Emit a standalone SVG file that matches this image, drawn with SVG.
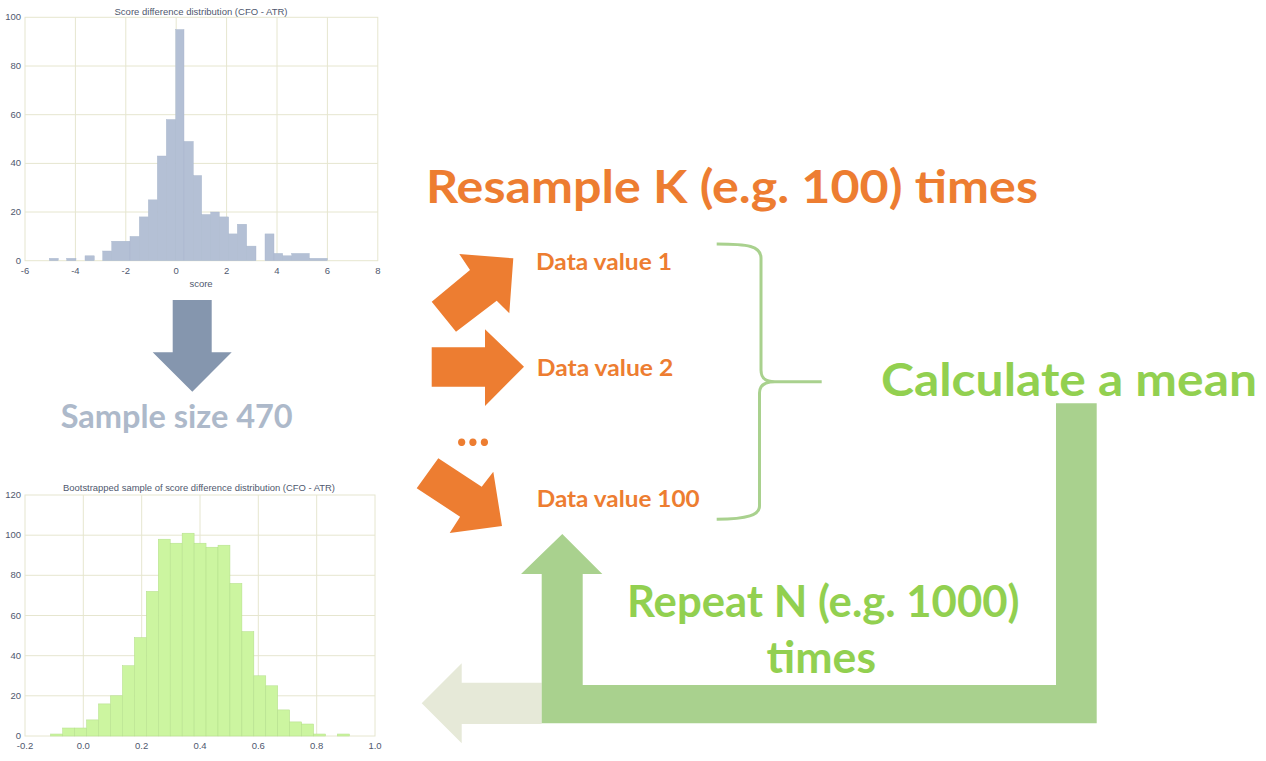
<svg xmlns="http://www.w3.org/2000/svg" width="1266" height="761" viewBox="0 0 1266 761">
<style>
.bg{fill:#ffffff}
.grid{stroke:#e6e6cf;stroke-width:1;fill:none}
.tick{font-family:"Liberation Sans",Arial,sans-serif;font-size:9.5px;fill:#4f586e}
.ttl{font-family:"Liberation Sans",Arial,sans-serif;font-size:9.5px;fill:#4f586e}
.b1{fill:#b4c0d5;stroke:#a9b6cc;stroke-width:0.4}
.b2{fill:#ccf5a0;stroke:#b3dd8a;stroke-width:0.5}
.big{font-family:Lato,"Open Sans",sans-serif;font-weight:bold}
.or{fill:#ed7d31}
.gr{fill:#92d050}
.dv{font-size:23px}
.h1{font-size:45.5px}
</style>
<rect class="bg" x="0" y="0" width="1266" height="761"/>

<g id="chart-top">
  <g class="grid">
    <rect x="25" y="17.3" width="352.8" height="243.4"/>
    <path d="M75.4,17.3V260.7M125.8,17.3V260.7M176.2,17.3V260.7M226.6,17.3V260.7M277,17.3V260.7M327.4,17.3V260.7M25,212H377.8M25,163.4H377.8M25,114.7H377.8M25,66H377.8"/>
  </g>
  <g>
    <rect class="b1" x="49.3" y="258.3" width="9" height="2.4"/>
    <rect class="b1" x="66.7" y="258.3" width="9.3" height="2.4"/>
    <rect class="b1" x="85" y="255.8" width="9.3" height="4.9"/>
    <rect class="b1" x="102.7" y="251" width="9" height="9.7"/>
    <rect class="b1" x="111.7" y="241.2" width="18.3" height="19.5"/>
    <rect class="b1" x="130" y="236.4" width="9.3" height="24.3"/>
    <rect class="b1" x="139.3" y="216.9" width="9" height="43.8"/>
    <rect class="b1" x="148.3" y="199.85" width="9" height="60.85"/>
    <rect class="b1" x="157.3" y="156" width="9" height="104.7"/>
    <rect class="b1" x="166.3" y="119.5" width="9.4" height="141.2"/>
    <rect class="b1" x="175.7" y="29.5" width="8.3" height="231.2"/>
    <rect class="b1" x="184" y="141.4" width="9.3" height="119.3"/>
    <rect class="b1" x="193.3" y="175.5" width="8.4" height="85.2"/>
    <rect class="b1" x="201.7" y="214.5" width="9" height="46.2"/>
    <rect class="b1" x="210.7" y="212" width="8.6" height="48.7"/>
    <rect class="b1" x="219.3" y="216.9" width="9.4" height="43.8"/>
    <rect class="b1" x="228.7" y="233.9" width="8.6" height="26.8"/>
    <rect class="b1" x="237.3" y="224.2" width="9.4" height="36.5"/>
    <rect class="b1" x="246.7" y="246.1" width="9.3" height="14.6"/>
    <rect class="b1" x="265" y="233.9" width="9" height="26.8"/>
    <rect class="b1" x="274" y="253.4" width="8.7" height="7.3"/>
    <rect class="b1" x="282.7" y="255.8" width="9" height="4.9"/>
    <rect class="b1" x="291.7" y="253.4" width="17.6" height="7.3"/>
    <rect class="b1" x="309.3" y="258.3" width="18" height="2.4"/>
  </g>
  <text class="ttl" x="201" y="15" text-anchor="middle" textLength="173" lengthAdjust="spacingAndGlyphs">Score difference distribution (CFO - ATR)</text>
  <g class="tick" text-anchor="end">
    <text x="21" y="263.7">0</text>
    <text x="21" y="215">20</text>
    <text x="21" y="166.4">40</text>
    <text x="21" y="117.7">60</text>
    <text x="21" y="69">80</text>
    <text x="21" y="20.3">100</text>
  </g>
  <g class="tick" text-anchor="middle">
    <text x="25" y="274">-6</text>
    <text x="75.4" y="274">-4</text>
    <text x="125.8" y="274">-2</text>
    <text x="176.2" y="274">0</text>
    <text x="226.6" y="274">2</text>
    <text x="277" y="274">4</text>
    <text x="327.4" y="274">6</text>
    <text x="377.8" y="274">8</text>
    <text x="201" y="286.5">score</text>
  </g>
</g>

<g id="chart-bottom">
  <g class="grid">
    <rect x="25" y="495" width="350" height="241"/>
    <path d="M83.3,495V736M141.7,495V736M200,495V736M258.3,495V736M316.7,495V736M25,695.8H375M25,655.7H375M25,615.5H375M25,575.3H375M25,535.2H375"/>
  </g>
  <g>
    <rect class="b2" x="50.7" y="734" width="11.95" height="2"/>
    <rect class="b2" x="62.65" y="728" width="11.95" height="8"/>
    <rect class="b2" x="74.6" y="728" width="11.95" height="8"/>
    <rect class="b2" x="86.55" y="719.9" width="11.95" height="16.1"/>
    <rect class="b2" x="98.5" y="703.9" width="11.95" height="32.1"/>
    <rect class="b2" x="110.45" y="695.8" width="11.95" height="40.2"/>
    <rect class="b2" x="122.4" y="665.7" width="11.95" height="70.3"/>
    <rect class="b2" x="134.35" y="637.6" width="11.95" height="98.4"/>
    <rect class="b2" x="146.3" y="591.4" width="11.95" height="144.6"/>
    <rect class="b2" x="158.25" y="539.2" width="11.95" height="196.8"/>
    <rect class="b2" x="170.2" y="543.2" width="11.95" height="192.8"/>
    <rect class="b2" x="182.15" y="533.2" width="11.95" height="202.8"/>
    <rect class="b2" x="194.1" y="543.2" width="11.95" height="192.8"/>
    <rect class="b2" x="206.05" y="547.2" width="11.95" height="188.8"/>
    <rect class="b2" x="218" y="545.2" width="11.95" height="190.8"/>
    <rect class="b2" x="229.95" y="583.4" width="11.95" height="152.6"/>
    <rect class="b2" x="241.9" y="631.6" width="11.95" height="104.4"/>
    <rect class="b2" x="253.85" y="675.8" width="11.95" height="60.2"/>
    <rect class="b2" x="265.8" y="685.8" width="11.95" height="50.2"/>
    <rect class="b2" x="277.75" y="709.9" width="11.95" height="26.1"/>
    <rect class="b2" x="289.7" y="721.9" width="11.95" height="14.1"/>
    <rect class="b2" x="301.65" y="724" width="11.95" height="12"/>
    <rect class="b2" x="313.6" y="734" width="11.95" height="2"/>
    <rect class="b2" x="337.5" y="734" width="11.95" height="2"/>
  </g>
  <text class="ttl" x="199" y="491" text-anchor="middle" textLength="272" lengthAdjust="spacingAndGlyphs">Bootstrapped sample of score difference distribution (CFO - ATR)</text>
  <g class="tick" text-anchor="end">
    <text x="21" y="739">0</text>
    <text x="21" y="698.8">20</text>
    <text x="21" y="658.7">40</text>
    <text x="21" y="618.5">60</text>
    <text x="21" y="578.3">80</text>
    <text x="21" y="538.2">100</text>
    <text x="21" y="498">120</text>
  </g>
  <g class="tick" text-anchor="middle">
    <text x="25" y="749">-0.2</text>
    <text x="83.3" y="749">0.0</text>
    <text x="141.7" y="749">0.2</text>
    <text x="200" y="749">0.4</text>
    <text x="258.3" y="749">0.6</text>
    <text x="316.7" y="749">0.8</text>
    <text x="375" y="749">1.0</text>
  </g>
</g>

<g id="connectors">
  <polygon id="arrow-down" fill="#8596ae" points="172.7,300 211.7,300 211.7,352.3 231.7,352.3 192.3,391.7 152.7,352.3 172.7,352.3"/>
  <polygon id="arrow-o1" class="or" points="470,270 459.3,254 513.3,258.3 509.3,313.3 496.7,300.7 456,331.7 431.7,301.7"/>
  <polygon id="arrow-o2" class="or" points="431.7,347.3 485,347.3 485,329.3 524,366.7 485,406 485,386.7 431.7,386.7"/>
  <polygon id="arrow-o3" class="or" points="438.3,458.3 481.7,486.7 493.3,471.7 502,526 449.7,533 460.1,516.7 416.7,488.3"/>
  <path id="brace" fill="none" stroke="#a9d18e" stroke-width="3" d="M716.7,244 C748,244 761,246 761,258 L761,370 C761,378 765,381.7 775,381.7 L821.7,381.7 M775,381.7 C765,381.7 759.5,385 759.5,393 L759.5,506 C759.5,515 748,519 716.7,519.3"/>
  <polygon id="arrow-out" fill="#e6e9d8" points="541.7,682.7 461.7,682.7 461.7,663.3 421.7,703.3 461.7,743.3 461.7,724 541.7,724"/>
  <polygon id="arrow-loop" fill="#a9d18e" points="1056,403.3 1096.7,403.3 1096.7,723.3 541.7,723.3 541.7,574 521,574 562.3,534 602.3,574 582.7,574 582.7,685 1056,685"/>
</g>

<g id="label-sample">
  <text class="big" x="60.7" y="428" font-size="32" fill="#adb9ca" textLength="232" lengthAdjust="spacingAndGlyphs">Sample size 470</text>
</g>
<g id="label-resample">
  <text class="big or h1" x="426" y="203.3" textLength="612" lengthAdjust="spacingAndGlyphs">Resample K (e.g. 100) times</text>
</g>
<g id="node-dv1">
  <text class="big or dv" x="536" y="269.5" textLength="136" lengthAdjust="spacingAndGlyphs">Data value 1</text>
</g>
<g id="node-dv2">
  <text class="big or dv" x="536.7" y="375.7" textLength="136.6" lengthAdjust="spacingAndGlyphs">Data value 2</text>
</g>
<g id="node-dots">
  <text class="big or" x="456" y="446" font-size="50" textLength="34" lengthAdjust="spacingAndGlyphs">...</text>
</g>
<g id="node-dv100">
  <text class="big or dv" x="536.7" y="507.3" textLength="163" lengthAdjust="spacingAndGlyphs">Data value 100</text>
</g>
<g id="node-mean">
  <text class="big gr" x="881" y="396" font-size="45" textLength="376" lengthAdjust="spacingAndGlyphs">Calculate a mean</text>
</g>
<g id="label-repeat">
  <text class="big gr" x="627" y="616.7" font-size="44" textLength="392.5" lengthAdjust="spacingAndGlyphs">Repeat N (e.g. 1000)</text>
  <text class="big gr" x="766.5" y="673.3" font-size="44" textLength="109.5" lengthAdjust="spacingAndGlyphs">times</text>
</g>
</svg>
